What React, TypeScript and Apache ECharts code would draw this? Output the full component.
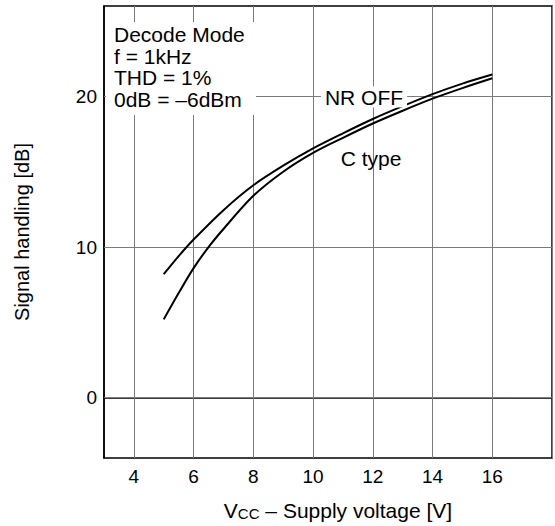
import React, { useEffect, useRef } from "react";
import * as echarts from "echarts";

const nrOffX = [5, 5.5, 6, 7, 8, 9, 10, 11, 12, 13, 14, 15, 16];
const nrOffY = [8.2, 9.4, 10.5, 12.45, 14.1, 15.4, 16.55, 17.55, 18.5, 19.35, 20.15, 20.85, 21.45];
const cTypeX = [5, 5.5, 6, 6.5, 7, 8, 9, 10, 11, 12, 13, 14, 15, 16];
const cTypeY = [5.2, 6.95, 8.6, 10.0, 11.2, 13.4, 15.0, 16.25, 17.25, 18.2, 19.05, 19.85, 20.55, 21.2];
const xGridValues = [4, 6, 8, 10, 12, 14, 16, 18];
const yGridValues = [0, 10, 20];
const noteLines = ["Decode Mode", "f = 1kHz", "THD = 1%", "0dB = –6dBm"];

const FONT = "'Liberation Sans', Arial, Helvetica, sans-serif";

export default function App() {
  const ref = useRef<HTMLDivElement>(null);
  useEffect(() => {
    if (!ref.current) return;
    const chart = echarts.init(ref.current, null, { renderer: "svg" });
    const gridMarks = [
      ...xGridValues.map((v) => ({ xAxis: v })),
      ...yGridValues.map((v) => ({ yAxis: v })),
    ];
    chart.setOption({
      animation: false,
      backgroundColor: "#fff",
      textStyle: { fontFamily: FONT },
      grid: {
        left: 104,
        top: 6,
        width: 454,
        height: 454,
        show: true,
        borderColor: "#000",
        borderWidth: 1.5,
        backgroundColor: "transparent",
      },
      xAxis: {
        type: "value",
        min: 3,
        max: 18,
        interval: 1,
        axisLine: { show: true, lineStyle: { color: "#000", width: 1.5 } },
        axisTick: { show: false },
        splitLine: { show: false },
        axisLabel: {
          color: "#000",
          fontSize: 19,
          fontFamily: FONT,
          margin: 9,
          formatter: (v: number) => (v % 2 === 0 && v >= 4 && v <= 16 ? String(v) : ""),
        },
        name: "V{sc|CC} – Supply voltage [V]",
        nameLocation: "middle",
        nameGap: 42,
        nameTextStyle: {
          color: "#000",
          fontSize: 21,
          fontFamily: FONT,
          padding: [0, 0, 0, 20],
          rich: { sc: { fontSize: 15, fontFamily: FONT, color: "#000", verticalAlign: "bottom" } },
        },
      },
      yAxis: {
        type: "value",
        min: -4,
        max: 26,
        interval: 2,
        axisLine: { show: true, lineStyle: { color: "#000", width: 1.5 } },
        axisTick: { show: false },
        splitLine: { show: false },
        axisLabel: {
          color: "#000",
          fontSize: 19,
          fontFamily: FONT,
          margin: 7,
          formatter: (v: number) => (v % 10 === 0 && v >= 0 ? String(v) : ""),
        },
        name: "Signal handling [dB]",
        nameLocation: "middle",
        nameGap: 72,
        nameTextStyle: { color: "#000", fontSize: 20, fontFamily: FONT },
      },
      series: [
        {
          name: "grid",
          type: "line",
          data: [],
          z: 1,
          markLine: {
            silent: true,
            symbol: "none",
            label: { show: false },
            lineStyle: { color: "#7a7a7a", width: 1, type: "solid" },
            data: gridMarks,
          },
        },
        {
          name: "NR OFF",
          type: "line",
          smooth: 0.3,
          showSymbol: false,
          z: 5,
          lineStyle: { color: "#000", width: 2 },
          data: nrOffX.map((x, i) => [x, nrOffY[i]]),
        },
        {
          name: "C type",
          type: "line",
          smooth: 0.3,
          showSymbol: false,
          z: 5,
          lineStyle: { color: "#000", width: 2 },
          data: cTypeX.map((x, i) => [x, cTypeY[i]]),
        },
      ],
      graphic: [
        {
          type: "rect",
          z: 100,
          shape: { x: 106, y: 22, width: 150, height: 93 },
          style: { fill: "#fff" },
        },
        {
          type: "text",
          z: 101,
          x: 114,
          y: 24,
          style: {
            text: noteLines.join("\n"),
            font: `21px ${FONT}`,
            lineHeight: 21.5,
            fill: "#000",
            verticalAlign: "top",
          },
        },
        {
          type: "text",
          z: 101,
          x: 364,
          y: 97,
          style: {
            text: "NR OFF",
            font: `21px ${FONT}`,
            fill: "#000",
            align: "center",
            verticalAlign: "middle",
            backgroundColor: "#fff",
            padding: [0, 4],
          },
        },
        {
          type: "text",
          z: 101,
          x: 371,
          y: 158,
          style: {
            text: "C type",
            font: `21px ${FONT}`,
            fill: "#000",
            align: "center",
            verticalAlign: "middle",
          },
        },
      ],
    });
    return () => chart.dispose();
  }, []);
  return (
    <div
      ref={ref}
      style={{ position: "fixed", left: 0, top: 0, width: 555, height: 526 }}
    />
  );
}
